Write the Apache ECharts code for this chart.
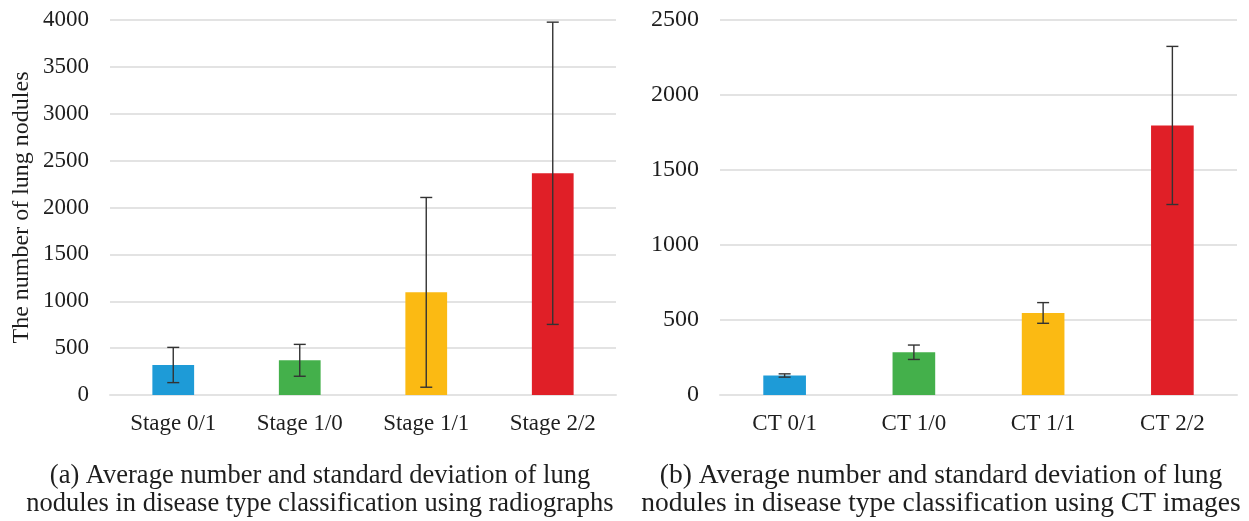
<!DOCTYPE html>
<html>
<head>
<meta charset="utf-8">
<script src="https://cdn.jsdelivr.net/npm/echarts@6/dist/echarts.min.js"></script>
<style>
  html, body { margin: 0; padding: 0; background: #ffffff; }
  #chart { width: 1249px; height: 521px; }
</style>
</head>
<body>
<div id="chart"></div>
<script>
// ---- Data ----
const categoriesA = ['Stage 0/1', 'Stage 1/0', 'Stage 1/1', 'Stage 2/2'];
const meansA = [320, 370, 1095, 2365];
const sdA = [188, 170, 1012, 1612];

const categoriesB = ['CT 0/1', 'CT 1/0', 'CT 1/1', 'CT 2/2'];
const meansB = [130, 285, 547, 1797];
const sdB = [11, 48, 69, 527];

const yTicksA = { min: 0, max: 4000, interval: 500 };
const yTicksB = { min: 0, max: 2500, interval: 500 };

const barColors = ['#1E9BD7', '#44B04B', '#FBBA13', '#E01F27'];

const captionA = '(a) Average number and standard deviation of lung\nnodules in disease type classification using radiographs';
const captionB = '(b) Average number and standard deviation of lung\nnodules in disease type classification using CT images';
const yNameA = 'The number of lung nodules';

// ---- Chart ----
const FONT = '"Liberation Serif", "Times New Roman", serif';
const TXT = '#1e1e1e';
const GRID_LINE = { lineStyle: { color: '#e3e3e3', width: 2 } };

function barData(means) {
  return means.map((v, i) => ({ value: v, itemStyle: { color: barColors[i] } }));
}
function errData(means, sds) {
  return means.map((m, i) => [i, m - sds[i], m + sds[i]]);
}
function renderErr(params, api) {
  const idx = api.value(0);
  const lo = api.coord([idx, api.value(1)]);
  const hi = api.coord([idx, api.value(2)]);
  const half = 6;
  const style = { stroke: '#333333', lineWidth: 1.4 };
  return {
    type: 'group',
    children: [
      { type: 'line', shape: { x1: lo[0], y1: lo[1], x2: hi[0], y2: hi[1] }, style: style },
      { type: 'line', shape: { x1: hi[0] - half, y1: hi[1], x2: hi[0] + half, y2: hi[1] }, style: style },
      { type: 'line', shape: { x1: lo[0] - half, y1: lo[1], x2: lo[0] + half, y2: lo[1] }, style: style }
    ]
  };
}

function xAxis(cats, gi) {
  return {
    type: 'category', gridIndex: gi, data: cats,
    axisLine: { show: true, lineStyle: { color: '#e3e3e3', width: 2 } },
    axisTick: { show: false },
    axisLabel: { color: TXT, fontFamily: FONT, fontSize: 23, margin: 17 }
  };
}
function yAxis(t, gi, name, fs) {
  return {
    type: 'value', gridIndex: gi, min: t.min, max: t.max, interval: t.interval,
    name: name || '', nameLocation: 'middle', nameGap: 76,
    nameTextStyle: { color: TXT, fontFamily: FONT, fontSize: 24 },
    axisLine: { show: false }, axisTick: { show: false },
    splitLine: { show: true, lineStyle: GRID_LINE.lineStyle },
    axisLabel: { color: TXT, fontFamily: FONT, fontSize: fs, margin: 21,
      formatter: function (v) { return String(v); } }
  };
}

function captionStyle(fs) {
  return { color: TXT, fontFamily: FONT, fontSize: fs, fontWeight: 'normal', lineHeight: 28 };
}

const chart = echarts.init(document.getElementById('chart'), null, { renderer: 'canvas' });
chart.setOption({
  backgroundColor: '#ffffff',
  animation: false,
  title: [
    { text: captionA, left: 320, top: 462, textAlign: 'center', padding: 0, textStyle: captionStyle(26.5) },
    { text: captionB, left: 941, top: 462, textAlign: 'center', padding: 0, textStyle: captionStyle(27.5) }
  ],
  grid: [
    { left: 110, right: 1249 - 616, top: 20, bottom: 126 },
    { left: 720, right: 1249 - 1237, top: 20, bottom: 126 }
  ],
  xAxis: [xAxis(categoriesA, 0), xAxis(categoriesB, 1)],
  yAxis: [yAxis(yTicksA, 0, yNameA, 23), yAxis(yTicksB, 1, '', 24)],
  series: [
    { type: 'bar', xAxisIndex: 0, yAxisIndex: 0, barWidth: '33%', data: barData(meansA) },
    { type: 'custom', xAxisIndex: 0, yAxisIndex: 0, renderItem: renderErr, encode: { x: 0, y: [1, 2] }, data: errData(meansA, sdA), z: 10 },
    { type: 'bar', xAxisIndex: 1, yAxisIndex: 1, barWidth: '33%', data: barData(meansB) },
    { type: 'custom', xAxisIndex: 1, yAxisIndex: 1, renderItem: renderErr, encode: { x: 0, y: [1, 2] }, data: errData(meansB, sdB), z: 10 }
  ]
});
</script>
</body>
</html>
